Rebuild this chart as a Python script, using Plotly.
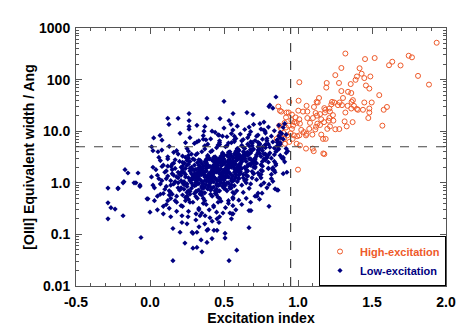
import plotly.graph_objects as go

# dividing lines between the two classes
x_cut = 0.95
ew_cut = 5.0

# high-excitation objects (excitation index, [OIII] EW in Ang)
hi_x = [1.937, 1.320, 1.453, 1.518, 1.748, 1.770, 1.637, 1.615, 1.693, 1.293,
        1.416, 1.430, 1.398, 1.389, 1.448, 1.252, 1.489, 1.811, 1.009, 1.194,
        1.191, 1.277, 1.356, 1.885, 1.459, 1.338, 1.293, 1.360, 1.482, 1.549,
        1.142, 1.126, 1.133, 1.371, 1.304, 1.281, 1.245, 1.225, 1.230, 1.270,
        1.335, 1.362, 1.378, 1.398, 1.405, 1.360, 1.448, 1.498, 1.439, 1.482,
        1.482, 1.475, 1.601, 1.579, 1.570, 1.297, 1.320, 1.315, 1.329, 1.369,
        1.279, 1.004, 0.941, 1.058, 0.867, 0.878, 0.887, 0.923, 0.937, 0.919,
        0.959, 0.955, 1.002, 1.034, 1.063, 1.108, 1.178, 1.185, 1.212, 1.216,
        1.182, 1.149, 1.119, 1.101, 1.128, 1.157, 1.212, 1.236, 1.239, 1.207,
        1.176, 1.149, 1.131, 1.122, 1.117, 1.081, 1.076, 1.058, 1.054, 1.040,
        1.022, 1.063, 1.009, 0.984, 0.991, 0.975, 1.013, 0.966, 0.959, 0.937,
        0.910, 0.919, 0.887, 0.874, 0.901, 0.928, 0.950, 0.973, 0.995, 1.009,
        0.964, 0.941, 0.905, 0.878, 0.856, 0.874, 0.912, 0.991, 1.013, 1.054,
        1.099, 1.106, 1.171, 1.178, 1.157, 1.169, 1.187, 1.097, 1.198, 1.216,
        1.252, 1.000]
hi_y = [518, 320, 250, 262, 290, 270, 222, 190, 188, 168,
        166, 130, 115, 99, 107, 122, 115, 118, 89, 86,
        70, 86, 82, 80, 77, 58, 60, 55, 67, 50,
        44, 37, 36, 40, 44, 36, 36, 33, 37, 32,
        31, 37, 31, 27, 26, 27.5, 36, 36, 26, 27.5,
        23, 18, 29.5, 26, 12.8, 32, 23, 15.5, 12.4, 15,
        11, 39, 37, 31, 30, 25, 24, 23, 23, 18.5,
        21, 16.5, 25, 24, 24, 29.5, 28, 26, 27.5, 24,
        23, 21.5, 22.5, 18, 20, 17, 18, 20.5, 16, 16,
        15, 13.2, 14, 12.2, 10.8, 14.5, 11.1, 8.9, 8.3, 9.6,
        10.6, 18, 17, 18.5, 14.5, 15, 14, 12.8, 11.1, 12.8,
        14.5, 11.8, 11.1, 12.8, 9.3, 8.3, 9.1, 8.3, 8.0, 8.3,
        7.1, 6.2, 7.1, 8.3, 7.1, 5.7, 5.7, 5.7, 5.3, 4.6,
        4.6, 4.1, 3.7, 3.6, 8.6, 7.1, 7.1, 8.6, 11.1, 12.4,
        10.9, 1.8]

# low-excitation objects
lo_x = [
    # 0.0 - 0.1
    0.02, 0.05, 0.07, 0.09, 0.03, 0.08, 0.06, 0.10, 0.04, 0.09,
    0.01, 0.07, 0.05, 0.10, 0.08, 0.03, 0.06, 0.09, 0.02, 0.07,
    # 0.1 - 0.2
    0.11, 0.13, 0.15, 0.17, 0.19, 0.12, 0.14, 0.16, 0.18, 0.20,
    0.11, 0.14, 0.17, 0.19, 0.12, 0.15, 0.18, 0.13, 0.16, 0.19,
    0.11, 0.14, 0.17, 0.20, 0.12, 0.15, 0.18, 0.13, 0.16, 0.19,
    0.14, 0.17, 0.12, 0.18, 0.15, 0.11, 0.19, 0.16, 0.13, 0.20,
    # 0.2 - 0.3
    0.21, 0.23, 0.25, 0.27, 0.29, 0.22, 0.24, 0.26, 0.28, 0.30,
    0.21, 0.24, 0.26, 0.29, 0.22, 0.25, 0.28, 0.23, 0.27, 0.30,
    0.21, 0.23, 0.26, 0.28, 0.22, 0.25, 0.29, 0.24, 0.27, 0.30,
    0.22, 0.24, 0.26, 0.28, 0.21, 0.25, 0.29, 0.23, 0.27, 0.30,
    0.21, 0.24, 0.26, 0.28, 0.22, 0.25, 0.29, 0.23, 0.27, 0.30,
    0.22, 0.24, 0.26, 0.28, 0.21, 0.25, 0.29, 0.23, 0.27, 0.30,
    0.21, 0.23, 0.25, 0.27, 0.29, 0.22, 0.24, 0.26, 0.28, 0.30,
    # 0.3 - 0.4
    0.31, 0.33, 0.35, 0.37, 0.39, 0.32, 0.34, 0.36, 0.38, 0.40,
    0.32, 0.35, 0.38, 0.31, 0.34, 0.37, 0.40, 0.33, 0.36, 0.39,
    0.33, 0.36, 0.39, 0.32, 0.35, 0.38, 0.31, 0.34, 0.37, 0.40,
    0.34, 0.31, 0.37, 0.40, 0.33, 0.36, 0.39, 0.32, 0.35, 0.38,
    0.35, 0.38, 0.31, 0.34, 0.37, 0.40, 0.33, 0.36, 0.39, 0.32,
    0.36, 0.39, 0.32, 0.35, 0.38, 0.31, 0.34, 0.37, 0.40, 0.33,
    0.37, 0.40, 0.33, 0.36, 0.39, 0.32, 0.35, 0.38, 0.31, 0.34,
    0.38, 0.31, 0.34, 0.37, 0.40, 0.33, 0.36, 0.39, 0.32, 0.35,
    0.39, 0.32, 0.35, 0.38, 0.31, 0.34, 0.37, 0.40, 0.33, 0.36,
    0.40, 0.33, 0.36, 0.39, 0.32, 0.35, 0.38, 0.31, 0.34, 0.37,
    # 0.4 - 0.5
    0.41, 0.43, 0.45, 0.47, 0.49, 0.42, 0.44, 0.46, 0.48, 0.50,
    0.42, 0.45, 0.48, 0.41, 0.44, 0.47, 0.50, 0.43, 0.46, 0.49,
    0.43, 0.46, 0.49, 0.42, 0.45, 0.48, 0.41, 0.44, 0.47, 0.50,
    0.44, 0.41, 0.47, 0.50, 0.43, 0.46, 0.49, 0.42, 0.45, 0.48,
    0.45, 0.48, 0.41, 0.44, 0.47, 0.50, 0.43, 0.46, 0.49, 0.42,
    0.46, 0.49, 0.42, 0.45, 0.48, 0.41, 0.44, 0.47, 0.50, 0.43,
    0.47, 0.50, 0.43, 0.46, 0.49, 0.42, 0.45, 0.48, 0.41, 0.44,
    0.48, 0.41, 0.44, 0.47, 0.50, 0.43, 0.46, 0.49, 0.42, 0.45,
    0.49, 0.42, 0.45, 0.48, 0.41, 0.44, 0.47, 0.50, 0.43, 0.46,
    0.50, 0.43, 0.46, 0.49, 0.42, 0.45, 0.48, 0.41, 0.44, 0.47,
    0.41, 0.44, 0.47, 0.50, 0.43, 0.46, 0.49, 0.42, 0.45, 0.48,
    # 0.5 - 0.6
    0.51, 0.53, 0.55, 0.57, 0.59, 0.52, 0.54, 0.56, 0.58, 0.60,
    0.52, 0.55, 0.58, 0.51, 0.54, 0.57, 0.60, 0.53, 0.56, 0.59,
    0.53, 0.56, 0.59, 0.52, 0.55, 0.58, 0.51, 0.54, 0.57, 0.60,
    0.54, 0.51, 0.57, 0.60, 0.53, 0.56, 0.59, 0.52, 0.55, 0.58,
    0.55, 0.58, 0.51, 0.54, 0.57, 0.60, 0.53, 0.56, 0.59, 0.52,
    0.56, 0.59, 0.52, 0.55, 0.58, 0.51, 0.54, 0.57, 0.60, 0.53,
    0.57, 0.60, 0.53, 0.56, 0.59, 0.52, 0.55, 0.58, 0.51, 0.54,
    0.58, 0.51, 0.54, 0.57, 0.60, 0.53, 0.56, 0.59, 0.52, 0.55,
    0.59, 0.52, 0.55, 0.58, 0.51, 0.54, 0.57, 0.60, 0.53, 0.56,
    0.60, 0.53, 0.56, 0.59, 0.52, 0.55, 0.58, 0.51, 0.54, 0.57,
    # 0.6 - 0.7
    0.61, 0.63, 0.65, 0.67, 0.69, 0.62, 0.64, 0.66, 0.68, 0.70,
    0.62, 0.65, 0.68, 0.61, 0.64, 0.67, 0.70, 0.63, 0.66, 0.69,
    0.63, 0.66, 0.69, 0.62, 0.65, 0.68, 0.61, 0.64, 0.67, 0.70,
    0.64, 0.61, 0.67, 0.70, 0.63, 0.66, 0.69, 0.62, 0.65, 0.68,
    0.65, 0.68, 0.61, 0.64, 0.67, 0.70, 0.63, 0.66, 0.69, 0.62,
    0.66, 0.69, 0.62, 0.65, 0.68, 0.61, 0.64, 0.67, 0.70, 0.63,
    0.67, 0.70, 0.63, 0.66, 0.69, 0.62, 0.65, 0.68, 0.61, 0.64,
    # 0.7 - 0.8
    0.71, 0.73, 0.75, 0.77, 0.79, 0.72, 0.74, 0.76, 0.78, 0.80,
    0.72, 0.75, 0.78, 0.71, 0.74, 0.77, 0.80, 0.73, 0.76, 0.79,
    0.73, 0.76, 0.79, 0.72, 0.75, 0.78, 0.71, 0.74, 0.77, 0.80,
    0.74, 0.71, 0.77, 0.80, 0.73, 0.76, 0.79, 0.72, 0.75, 0.78,
    0.75, 0.78, 0.71, 0.74, 0.77, 0.80, 0.73, 0.76, 0.79, 0.72,
    # 0.8 - 0.95
    0.81, 0.83, 0.85, 0.87, 0.89, 0.82, 0.84, 0.86, 0.88, 0.90,
    0.82, 0.85, 0.88, 0.91, 0.84, 0.87, 0.90, 0.83, 0.86, 0.92,
    0.81, 0.84, 0.87, 0.93, 0.83, 0.86, 0.89, 0.92, 0.85, 0.88,
    0.82, 0.86, 0.90, 0.84, 0.88,
    # upper edge of the cloud
    0.33, 0.36, 0.41, 0.44, 0.47, 0.50, 0.52, 0.55, 0.57, 0.59,
    0.61, 0.63, 0.64, 0.66, 0.68, 0.70, 0.71, 0.73, 0.75, 0.76,
    0.78, 0.80, 0.82, 0.84, 0.86, 0.88, 0.90, 0.92, 0.39, 0.46,
    0.53, 0.62, 0.69, 0.74, 0.87, 0.91, 0.58, 0.49, 0.27, 0.30,
    # lower edge of the cloud
    0.22, 0.26, 0.29, 0.33, 0.35, 0.38, 0.40, 0.43, 0.45, 0.48,
    0.51, 0.53, 0.56, 0.58, 0.60, 0.62, 0.65, 0.68, 0.71, 0.74,
    0.18, 0.14, 0.09, 0.05, 0.12, 0.31, 0.42, 0.55, 0.47, 0.37,
    # scattered outliers
    0.500, 0.264, 0.264, 0.264, 0.264, 0.190, 0.120, 0.128, 0.203, 0.025,
    0.068, 0.081, 0.011, 0.020, 0.054, 0.370, 0.365, 0.385, 0.419, 0.473,
    0.534, 0.561, 0.547, 0.466, 0.378, 0.317, 0.142, 0.081, -0.169, 0.851,
    0.804, 0.317, 0.655, 0.696, 0.743, 0.777, 0.810, 0.830,
    -0.284, -0.216, -0.284, -0.264, -0.236, -0.284, -0.182, -0.061, 0.155, 0.000,
    -0.068, -0.014, -0.095, -0.182, 0.216, 0.203, 0.155, 0.236, 0.290, 0.317,
    0.250, 0.284, 0.317, 0.216, 0.257, 0.586, 0.534, 0.351, 0.385, 0.345,
    0.419, 0.507, 0.507, 0.290, 0.385, 0.392, 0.432, 0.453, 0.669, 0.804,
    0.669, 0.682, 0.331, 0.845, 0.865, 0.723, 0.730, 0.750, 0.804, 0.466,
    0.453, 0.405, 0.372, 0.338, 0.311, 0.561, 0.540, 0.493, 0.830, 0.858,
    0.925, 0.900, 0.845, 0.757, 0.586, 0.561, 0.554, -0.149, -0.081, -0.108,
    -0.068, -0.020, -0.176, -0.216]
lo_y = [
    # 0.0 - 0.1
    0.9, 1.4, 0.6, 2.2, 0.45, 1.1, 3.1, 0.75, 1.8, 0.35,
    1.3, 2.7, 0.55, 1.6, 4.3, 0.8, 1.2, 0.62, 2.0, 0.95,
    # 0.1 - 0.2
    1.2, 0.7, 2.3, 0.45, 1.6, 3.2, 0.9, 1.4, 0.55, 2.6,
    0.38, 1.1, 1.9, 0.8, 2.9, 0.6, 1.3, 5.1, 0.95, 3.6,
    1.7, 0.5, 1.05, 0.72, 2.1, 1.5, 4.2, 0.32, 2.4, 1.0,
    0.65, 2.8, 1.35, 0.42, 1.8, 0.85, 1.25, 3.9, 0.58, 1.45,
    # 0.2 - 0.3
    1.1, 2.4, 0.65, 1.7, 0.9, 3.3, 1.3, 0.48, 2.0, 1.5,
    0.8, 1.9, 4.1, 1.2, 0.58, 2.7, 1.0, 1.6, 0.42, 2.2,
    1.4, 0.75, 3.0, 1.15, 2.5, 0.95, 1.8, 6.0, 0.68, 1.35,
    2.1, 0.52, 1.25, 3.6, 1.55, 0.85, 2.9, 1.05, 1.9, 0.62,
    0.36, 1.45, 2.3, 0.78, 1.65, 4.6, 1.2, 0.92, 2.6, 1.75,
    1.0, 3.1, 0.7, 1.5, 2.0, 0.55, 1.3, 2.4, 1.1, 0.88,
    1.6, 0.98, 2.2, 0.6, 1.4, 1.85, 0.45, 3.4, 1.2, 2.8,
    # 0.3 - 0.4
    1.3, 2.2, 0.8, 1.6, 3.4, 1.0, 0.62, 1.9, 2.7, 1.15,
    0.5, 1.45, 2.5, 0.9, 1.75, 4.5, 1.2, 0.72, 2.1, 1.35,
    1.8, 0.95, 3.0, 1.5, 0.66, 2.3, 1.1, 1.65, 5.2, 0.85,
    2.0, 1.25, 0.45, 1.55, 2.8, 0.78, 1.4, 3.7, 1.05, 2.4,
    0.58, 1.7, 1.0, 2.6, 1.3, 0.88, 1.95, 7.0, 1.2, 0.7,
    1.6, 3.2, 0.98, 1.45, 2.15, 0.54, 1.85, 1.1, 2.9, 1.35,
    0.82, 2.05, 1.5, 0.4, 1.25, 2.45, 1.75, 0.92, 3.5, 1.15,
    1.9, 0.68, 2.7, 1.4, 1.02, 0.3, 1.6, 2.2, 1.28, 4.0,
    0.76, 1.48, 2.35, 1.08, 1.82, 0.6, 2.55, 1.38, 0.96, 1.68,
    3.0, 1.18, 0.5, 2.0, 1.58, 0.86, 2.85, 1.22, 1.72, 0.64,
    # 0.4 - 0.5
    1.5, 2.6, 0.9, 1.8, 3.8, 1.2, 0.7, 2.2, 1.4, 2.9,
    0.55, 1.65, 2.4, 1.05, 1.95, 5.5, 1.3, 0.82, 2.5, 1.55,
    2.0, 1.1, 3.3, 1.7, 0.75, 2.7, 1.25, 1.9, 6.5, 0.95,
    2.3, 1.45, 0.5, 1.75, 3.1, 0.88, 1.6, 4.2, 1.15, 2.8,
    0.65, 1.85, 1.0, 3.0, 1.5, 0.98, 2.2, 8.5, 1.35, 0.8,
    1.8, 3.6, 1.08, 1.62, 2.45, 0.6, 2.1, 1.28, 3.4, 1.52,
    0.92, 2.35, 1.7, 0.42, 1.4, 2.75, 2.0, 1.02, 4.0, 1.22,
    2.15, 0.72, 3.2, 1.58, 1.12, 0.34, 1.82, 2.6, 1.42, 4.8,
    0.85, 1.68, 2.7, 1.18, 2.05, 0.62, 2.95, 1.55, 1.05, 1.9,
    3.5, 1.32, 0.52, 2.25, 1.78, 0.96, 3.3, 1.38, 1.98, 0.7,
    1.48, 2.4, 1.12, 0.78, 1.88, 2.9, 1.26, 1.64, 0.58, 2.55,
    # 0.5 - 0.6
    1.9, 3.2, 1.1, 2.3, 4.6, 1.5, 0.85, 2.7, 1.75, 3.6,
    0.7, 2.05, 3.0, 1.3, 2.4, 6.8, 1.6, 1.0, 3.1, 1.95,
    2.5, 1.35, 4.1, 2.1, 0.92, 3.4, 1.55, 2.35, 8.0, 1.2,
    2.9, 1.8, 0.62, 2.2, 3.9, 1.08, 2.0, 5.2, 1.42, 3.5,
    0.8, 2.3, 1.25, 3.7, 1.85, 1.22, 2.75, 10.5, 1.68, 1.0,
    2.25, 4.5, 1.32, 2.02, 3.05, 0.75, 2.6, 1.6, 4.2, 1.9,
    1.15, 2.9, 2.12, 0.52, 1.75, 3.4, 2.5, 1.28, 5.0, 1.52,
    2.65, 0.9, 4.0, 1.98, 1.4, 0.45, 2.25, 3.25, 1.78, 6.0,
    1.05, 2.1, 3.35, 1.46, 2.55, 0.78, 3.65, 1.92, 1.3, 2.35,
    4.3, 1.65, 0.65, 2.8, 2.2, 1.2, 4.1, 1.72, 2.45, 0.88,
    # 0.6 - 0.7
    2.4, 4.0, 1.4, 2.9, 5.8, 1.9, 1.1, 3.4, 2.2, 4.5,
    0.9, 2.6, 3.8, 1.65, 3.0, 8.5, 2.0, 1.25, 3.9, 2.45,
    3.1, 1.7, 5.2, 2.65, 1.15, 4.3, 1.95, 2.95, 12.0, 1.5,
    3.6, 2.25, 0.78, 2.75, 4.9, 1.35, 2.5, 6.5, 1.8, 4.4,
    1.0, 2.9, 1.55, 4.6, 2.3, 1.52, 3.45, 2.1, 1.25, 2.8,
    5.6, 1.65, 2.55, 3.8, 0.95, 3.25, 2.0, 5.2, 2.4, 1.45,
    3.6, 2.65, 0.65, 2.2, 4.25, 3.1, 1.6, 6.2, 1.9, 3.3,
    # 0.7 - 0.8
    3.0, 5.0, 1.75, 3.6, 7.2, 2.4, 1.4, 4.2, 2.75, 5.6,
    1.15, 3.25, 4.8, 2.05, 3.75, 10.5, 2.5, 1.55, 4.9, 3.05,
    3.9, 2.1, 6.5, 3.3, 1.45, 5.4, 2.45, 3.7, 15.0, 1.9,
    4.5, 2.8, 1.0, 3.45, 6.1, 1.7, 3.15, 8.0, 2.25, 5.5,
    1.25, 3.6, 1.95, 5.8, 2.9, 1.9, 4.3, 2.6, 0.8, 3.5,
    # 0.8 - 0.95
    3.8, 6.2, 2.2, 4.5, 9.0, 3.0, 1.75, 5.2, 3.4, 7.0,
    1.45, 4.0, 6.0, 2.55, 4.7, 13.0, 3.1, 1.95, 6.1, 3.8,
    4.9, 2.6, 8.1, 4.1, 1.8, 6.7, 3.05, 4.6, 2.35, 5.6,
    1.2, 4.3, 2.9, 3.5, 7.5,
    # upper edge of the cloud
    6.5, 8.2, 7.1, 9.5, 6.0, 11.5, 7.8, 9.0, 6.3, 12.5,
    8.8, 6.9, 10.8, 7.5, 9.8, 13.5, 6.6, 8.4, 11.0, 7.0,
    9.2, 12.0, 8.0, 10.2, 6.8, 9.5, 11.8, 8.6, 5.6, 5.4,
    5.9, 5.3, 6.1, 5.5, 5.2, 14.0, 7.2, 8.0, 7.5, 5.8,
    # lower edge of the cloud
    0.35, 0.28, 0.42, 0.32, 0.26, 0.38, 0.30, 0.36, 0.27, 0.44,
    0.33, 0.40, 0.36, 0.30, 0.46, 0.38, 0.50, 0.42, 0.55, 0.48,
    0.28, 0.22, 0.25, 0.30, 0.45, 0.19, 0.18, 0.20, 0.22, 0.16,
    # scattered outliers
    38, 22, 16, 12.4, 10.9, 17.8, 17.8, 13.5, 9.1, 7.4,
    8.3, 6.7, 5.0, 4.2, 4.0, 12.4, 10, 17.8, 10, 17.6,
    16, 22, 13.6, 8.4, 6.8, 6.2, 2.07, 2.07, 1.8, 46,
    30, 13, 23, 21, 14, 10, 32, 28,
    0.79, 0.79, 0.41, 0.33, 0.31, 0.20, 0.23, 0.087, 0.031, 0.27,
    0.85, 0.49, 1.0, 1.0, 0.17, 0.11, 0.13, 0.068, 0.054, 0.056,
    0.16, 0.11, 0.11, 0.23, 0.22, 0.0495, 0.031, 0.046, 0.07, 0.078,
    0.083, 0.085, 0.105, 0.105, 0.12, 0.125, 0.12, 0.12, 0.135, 0.35,
    0.29, 0.29, 0.14, 0.76, 0.72, 0.55, 0.63, 0.9, 0.93, 0.17,
    0.2, 0.21, 0.23, 0.23, 0.25, 0.25, 0.26, 0.26, 1.07, 0.73,
    1.6, 1.5, 1.6, 0.63, 0.7, 0.49, 0.25, 1.55, 1.55, 1.0,
    0.9, 0.49, 1.05, 0.77]

x_ticks = [-0.5, 0.0, 0.5, 1.0, 1.5, 2.0]
x_labels = ['-0.5', '0.0', '0.5', '1.0', '1.5', '2.0']
y_ticks = [0.01, 0.1, 1, 10, 100, 1000]
y_labels = ['0.01', '0.1', '1.0', '10.0', '100', '1000']

hi_col = '#ee5a2a'
lo_col = '#000080'
axis_col = '#555555'

fig = go.Figure()
fig.add_trace(go.Scatter(
    x=hi_x, y=hi_y, mode='markers',
    name='<span style="color:%s">High-excitation</span>' % hi_col,
    marker=dict(symbol='circle-open', size=5, color=hi_col, line=dict(width=1))))
fig.add_trace(go.Scatter(
    x=lo_x, y=lo_y, mode='markers',
    name='<span style="color:%s">Low-excitation</span>' % lo_col,
    marker=dict(symbol='diamond', size=4, color=lo_col)))

# dashed class boundaries
fig.add_shape(type='line', xref='x', yref='paper', x0=x_cut, x1=x_cut, y0=0, y1=1,
              line=dict(color='#444444', width=1.2, dash='dash'))
fig.add_shape(type='line', xref='paper', yref='y', x0=0, x1=1, y0=ew_cut, y1=ew_cut,
              line=dict(color='#444444', width=1.2, dash='dash'))

minor_y = [m * 10 ** e for e in range(-2, 3) for m in range(2, 10)]

fig.update_xaxes(range=[-0.5, 2.0], tickmode='array', tickvals=x_ticks, ticktext=x_labels,
                 ticks='inside', ticklen=6, tickcolor=axis_col, showline=True, linecolor=axis_col,
                 linewidth=1, mirror='allticks', showgrid=False, zeroline=False,
                 tickfont=dict(size=14), ticklabelstandoff=3,
                 minor=dict(tickmode='linear', tick0=-0.5, dtick=0.1, ticks='inside',
                            ticklen=3, tickcolor=axis_col, showgrid=False),
                 title=dict(text='Excitation index', font=dict(size=14), standoff=2))
fig.update_yaxes(type='log', range=[-2, 3], tickmode='array', tickvals=y_ticks, ticktext=y_labels,
                 ticks='inside', ticklen=6, tickcolor=axis_col, showline=True, linecolor=axis_col,
                 linewidth=1, mirror='allticks', showgrid=False, zeroline=False,
                 tickfont=dict(size=14), ticklabelstandoff=2,
                 minor=dict(tickmode='array', tickvals=minor_y, ticks='inside',
                            ticklen=3, tickcolor=axis_col, showgrid=False),
                 title=dict(text='[OIII] Equivalent width / Ang', font=dict(size=14), standoff=1))

# the page adds an 8px body margin, so the figure is 8px smaller on each axis
fig.update_layout(
    width=461, height=327,
    margin=dict(l=68, r=23, t=16, b=49),
    paper_bgcolor='white', plot_bgcolor='white',
    font=dict(family='Liberation Sans, Arial, sans-serif', size=13, color='black', weight='bold'),
    legend=dict(x=1, y=0, xanchor='right', yanchor='bottom', bgcolor='white',
                bordercolor='black', borderwidth=1, font=dict(size=11, weight='bold'),
                itemwidth=30, tracegroupgap=0),
)

fig.write_html('out.html')
